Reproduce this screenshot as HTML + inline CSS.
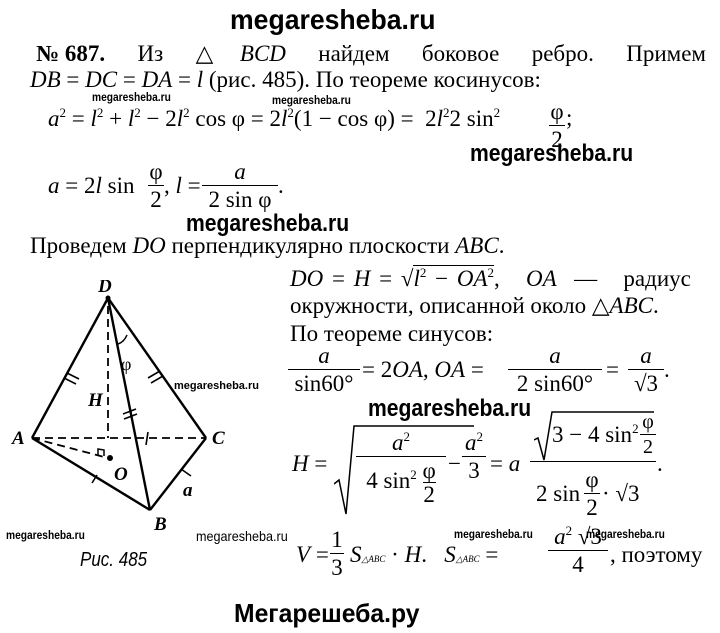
<!DOCTYPE html>
<html><head><meta charset="utf-8"><style>
body{margin:0;width:720px;height:633px;background:#fff;position:relative;overflow:hidden;font-family:"Liberation Serif",serif;color:#000}
.t{position:absolute;white-space:nowrap;font-size:23px;line-height:1}
.i{font-style:italic}
.w{position:absolute;white-space:nowrap;font-family:"Liberation Sans",sans-serif;font-weight:bold;transform-origin:0 0}
.ws{font-size:12px;transform:scaleX(.85)}
.wb{font-size:24px;transform:scaleX(.88)}
.fr{position:absolute;text-align:center;font-size:23px;line-height:1}
.fr .n{display:block;padding-bottom:2px;border-bottom:1.5px solid #000}
.fr .d{display:block;padding-top:2px}
sup{font-size:13px;vertical-align:9px}
</style></head><body>

<div class="w" style="left:230px;top:4px;font-size:28px;transform:scaleX(.95)">megaresheba.ru</div>

<div class="t" style="left:36px;top:42px;width:670px;white-space:normal;text-align:justify;text-align-last:justify"><b style="display:inline-block;white-space:nowrap">№ 687.</b> Из △<span class="i">BCD</span> найдем боковое ребро. Примем</div>
<div class="t" style="left:30px;top:68px"><span class="i">DB</span> = <span class="i">DC</span> = <span class="i">DA</span> = <span class="i">l</span> (рис. 485). По теореме косинусов:</div>
<div class="w ws" style="left:92px;top:90px">megaresheba.ru</div>
<div class="w ws" style="left:272px;top:93px">megaresheba.ru</div>

<div class="t" style="left:48px;top:106px"><span class="i">a</span><sup>2</sup> = <span class="i">l</span><sup>2</sup> + <span class="i">l</span><sup>2</sup> − 2<span class="i">l</span><sup>2</sup> cos φ = 2<span class="i">l</span><sup>2</sup>(1 − cos φ) = &nbsp;2<span class="i">l</span><sup>2</sup>2 sin<sup>2</sup></div>
<div class="fr" style="left:549px;top:100px;width:16px"><span class="n">φ</span><span class="d">2</span></div>
<div class="t" style="left:566px;top:106px">;</div>
<div class="w wb" style="left:470px;top:140px">megaresheba.ru</div>

<div class="t" style="left:48px;top:174px"><span class="i">a</span> = 2<span class="i">l</span> sin</div>
<div class="fr" style="left:148px;top:160px;width:16px"><span class="n">φ</span><span class="d">2</span></div>
<div class="t" style="left:164px;top:174px">, <span class="i">l</span> =</div>
<div class="fr" style="left:202px;top:160px;width:76px"><span class="n i">a</span><span class="d">2 sin φ</span></div>
<div class="t" style="left:278px;top:174px">.</div>
<div class="w wb" style="left:186px;top:210px">megaresheba.ru</div>

<div class="t" style="left:30px;top:234px">Проведем <span class="i">DO</span> перпендикулярно плоскости <span class="i">ABC</span>.</div>
<div class="t" style="left:290px;top:266px;word-spacing:3px"><span class="i">DO</span> = <span class="i">H</span> = √<span style="border-top:1.5px solid #000"><span class="i">l</span><sup>2</sup> − <span class="i">OA</span><sup>2</sup></span>, &nbsp;&nbsp;<span class="i">OA</span> &nbsp;— &nbsp;&nbsp;радиус</div>
<div class="t" style="left:290px;top:294px">окружности, описанной около △<span class="i">ABC</span>.</div>
<div class="t" style="left:290px;top:322px">По теореме синусов:</div>

<div class="fr" style="left:288px;top:344px;width:72px"><span class="n i">a</span><span class="d">sin60°</span></div>
<div class="t" style="left:362px;top:358px">= 2<span class="i">OA</span>, <span class="i">OA</span> =</div>
<div class="fr" style="left:508px;top:344px;width:94px"><span class="n i">a</span><span class="d">2 sin60°</span></div>
<div class="t" style="left:606px;top:358px">=</div>
<div class="fr" style="left:628px;top:344px;width:36px"><span class="n i">a</span><span class="d">√3</span></div>
<div class="t" style="left:664px;top:358px">.</div>
<div class="w wb" style="left:368px;top:395px">megaresheba.ru</div>

<div class="t" style="left:292px;top:452px"><span class="i">H</span> =</div>
<svg style="position:absolute;left:334px;top:424px" width="140" height="92"><polyline points="0,60 5,56 12,90 20,2 140,2" fill="none" stroke="#000" stroke-width="1.5"/></svg>
<div class="fr" style="left:356px;top:430px;width:90px"><span class="n"><i>a</i><sup>2</sup></span><span class="d">4 sin<sup>2</sup> <span style="display:inline-block;vertical-align:-14px;line-height:1"><span style="display:block;border-bottom:1px solid #000">φ</span>2</span></span></div>
<div class="t" style="left:448px;top:452px">−</div>
<div class="fr" style="left:462px;top:430px;width:24px"><span class="n"><i>a</i><sup>2</sup></span><span class="d">3</span></div>
<div class="t" style="left:490px;top:452px">= <span class="i">a</span></div>
<svg style="position:absolute;left:534px;top:410px" width="120" height="52"><polyline points="0,30 4,28 10,50 18,2 120,2" fill="none" stroke="#000" stroke-width="1.5"/></svg>
<div class="t" style="left:552px;top:422px">3 − 4 sin<sup>2</sup></div>
<div class="fr" style="left:640px;top:412px;width:16px;font-size:20px"><span class="n">φ</span><span class="d">2</span></div>
<div style="position:absolute;left:530px;top:461px;width:126px;border-top:1.5px solid #000"></div>
<div class="t" style="left:657px;top:452px">.</div>
<div class="t" style="left:536px;top:482px">2 sin</div>
<div class="fr" style="left:584px;top:468px;width:16px"><span class="n">φ</span><span class="d">2</span></div>
<div class="t" style="left:602px;top:482px">· √3</div>

<div class="w ws" style="left:6px;top:528px">megaresheba.ru</div>
<div class="w" style="left:196px;top:528px;font-size:14px;font-weight:normal;transform:scaleX(.9)">megaresheba.ru</div>
<div class="w ws" style="left:454px;top:527px">megaresheba.ru</div>
<div class="w ws" style="left:586px;top:527px">megaresheba.ru</div>

<div class="t" style="left:296px;top:543px"><span class="i">V</span> =</div>
<div class="fr" style="left:330px;top:528px;width:14px"><span class="n">1</span><span class="d">3</span></div>
<div class="t" style="left:350px;top:543px"><span class="i">S</span><span style="font-size:9px;font-style:italic">△ABC</span> · <span class="i">H</span>. &nbsp;&nbsp;<span class="i">S</span><span style="font-size:9px;font-style:italic">△ABC</span> =</div>
<div class="fr" style="left:548px;top:524px;width:60px"><span class="n"><i>a</i><sup>2</sup> √3</span><span class="d">4</span></div>
<div class="t" style="left:610px;top:543px">, поэтому</div>

<div class="t i" style="left:80px;top:550px;font-size:20px;font-family:'Liberation Sans',sans-serif;font-weight:normal;transform:scaleX(.85);transform-origin:0 0">Рис. 485</div>

<svg style="position:absolute;left:0;top:280px" width="260" height="250">
<g stroke="#000" stroke-width="2.4" fill="none">
<line x1="108" y1="18" x2="32" y2="158"/>
<line x1="108" y1="18" x2="206" y2="158"/>
<line x1="108" y1="18" x2="150" y2="230"/>
<line x1="32" y1="158" x2="150" y2="230"/>
<line x1="206" y1="158" x2="150" y2="230"/>
</g>
<g stroke="#000" stroke-width="1.8" fill="none" stroke-dasharray="8,5">
<line x1="108" y1="26" x2="108" y2="158"/>
<line x1="32" y1="158" x2="206" y2="158"/>
<line x1="32" y1="158" x2="108" y2="178"/>
</g>
<g stroke="#000" stroke-width="1.6">
<line x1="64" y1="98" x2="76" y2="104"/><line x1="67" y1="93" x2="79" y2="99"/>
<line x1="148" y1="98" x2="160" y2="91"/><line x1="151" y1="103" x2="163" y2="96"/>
<line x1="123" y1="134" x2="136" y2="129"/><line x1="124" y1="139" x2="137" y2="134"/>
<line x1="148" y1="152" x2="146" y2="165"/>
<line x1="92" y1="203" x2="97" y2="195"/>
<line x1="181" y1="189" x2="191" y2="196"/>
</g>
<path d="M118 64 Q124 62 127 55" stroke="#000" stroke-width="1.5" fill="none"/>
<path d="M98 175 L98 169 L104 170 L104 176" stroke="#000" stroke-width="1.5" fill="none"/>
<circle cx="110" cy="178" r="3" fill="#000"/>
<circle cx="108" cy="18" r="2.5" fill="#000"/>
<g font-family="Liberation Serif,serif" font-style="italic" font-weight="bold" font-size="19">
<text x="98" y="12">D</text><text x="12" y="164">A</text><text x="212" y="164">C</text>
<text x="154" y="250">B</text><text x="114" y="200">O</text><text x="88" y="126">H</text>
<text x="183" y="216">a</text>
</g>
<text x="121" y="90" font-family="Liberation Serif,serif" font-size="18">φ</text>
<text x="174" y="109" font-family="Liberation Sans,sans-serif" font-weight="bold" font-size="11">megaresheba.ru</text>
</svg>

<div class="w" style="left:234px;top:598px;font-size:26px;transform:scaleX(.95)">Мегарешеба.ру</div>
</body></html>
